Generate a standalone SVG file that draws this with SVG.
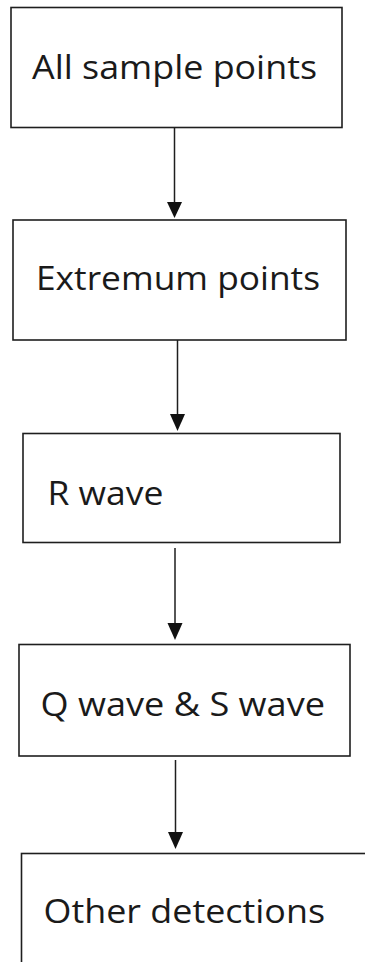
<svg xmlns="http://www.w3.org/2000/svg" width="365" height="962" viewBox="0 0 365 962">
  <style>
    .box { fill: #ffffff; stroke: #1e1e1e; stroke-width: 1.6; }
    .label { font-family: "Open Sans", "Noto Sans", "Liberation Sans", sans-serif; font-size: 33px; fill: #1a1a1a; }
    .link { stroke: #1e1e1e; stroke-width: 1.5; fill: none; }
    .head { fill: #111111; }
  </style>
  <rect width="365" height="962" fill="#ffffff"/>

  <!-- connectors: vertical links with solid triangular heads -->
  <g id="connectors">
    <line class="link" x1="174.5" y1="128" x2="174.5" y2="203"/>
    <path class="head" d="M167,202 L182,202 L174.5,218 Z"/>
    <line class="link" x1="177.5" y1="340" x2="177.5" y2="415"/>
    <path class="head" d="M170,414 L185,414 L177.5,431 Z"/>
    <line class="link" x1="175" y1="548" x2="175" y2="624"/>
    <path class="head" d="M167.5,623 L182.5,623 L175,640 Z"/>
    <line class="link" x1="175.5" y1="760" x2="175.5" y2="833"/>
    <path class="head" d="M168,832 L183,832 L175.5,849 Z"/>
  </g>

  <g id="node-all-samples">
    <rect class="box" x="11" y="7.5" width="331" height="120"/>
    <text class="label" x="32" y="79" textLength="285" lengthAdjust="spacingAndGlyphs">All sample points</text>
  </g>

  <g id="node-extremum">
    <rect class="box" x="13" y="220" width="333" height="120"/>
    <text class="label" x="36" y="290" textLength="284" lengthAdjust="spacingAndGlyphs">Extremum points</text>
  </g>

  <g id="node-r-wave">
    <rect class="box" x="23" y="433.5" width="317" height="109"/>
    <text class="label" x="47.5" y="505" textLength="116" lengthAdjust="spacingAndGlyphs">R wave</text>
  </g>

  <g id="node-qs-wave">
    <rect class="box" x="19" y="644.5" width="331" height="111.5"/>
    <text class="label" x="40.5" y="716" textLength="284.5" lengthAdjust="spacingAndGlyphs">Q wave &amp; S wave</text>
  </g>

  <g id="node-other">
    <rect class="box" x="21.5" y="853.5" width="360" height="130"/>
    <text class="label" x="43.5" y="922.5" textLength="281.5" lengthAdjust="spacingAndGlyphs">Other detections</text>
  </g>
</svg>
